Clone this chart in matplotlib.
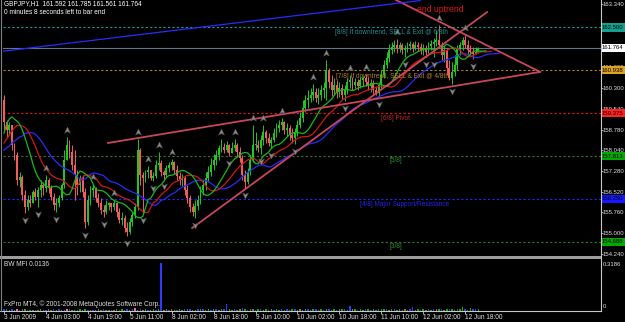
import numpy as np
import matplotlib.pyplot as plt
import matplotlib.transforms as mtrans
from matplotlib import font_manager as fm
from matplotlib.path import Path
from matplotlib.patches import Rectangle
from matplotlib.lines import Line2D

W, H = 625, 322

# ---------------- data ----------------
first_open = 159.86
closes = [159.05, 158.76, 158.95, 158.22, 157.85, 156.94, 157.05, 156.39, 155.96, 156.21,
          156.10, 156.50, 156.32, 156.58, 156.76, 156.65, 156.94, 156.65, 156.32, 156.03,
          156.10, 156.28, 156.76, 157.67, 158.22, 157.96, 157.49, 157.12, 156.76, 157.01,
          156.50, 155.41, 156.21, 156.58, 156.65, 156.28, 156.10, 155.85, 155.77, 156.03,
          156.10, 155.96, 156.10, 155.77, 155.48, 155.56, 155.19, 155.05, 155.41, 155.67,
          155.96, 158.03, 157.12, 157.01, 157.23, 157.31, 157.01, 157.09, 157.49, 157.56,
          157.23, 157.12, 157.38, 157.49, 157.60, 157.31, 157.09, 156.94, 157.01, 156.58,
          156.28, 155.96, 155.77, 155.99, 156.21, 156.58, 156.76, 157.01, 157.23, 157.49,
          157.67, 157.85, 158.11, 158.14, 158.03, 158.22, 157.92, 158.11, 158.22, 157.96,
          157.74, 157.12, 156.87, 157.23, 157.67, 158.22, 158.22, 158.11, 158.40, 158.69,
          158.47, 158.29, 158.40, 158.65, 158.84, 158.95, 159.05, 158.76, 158.84, 158.58,
          158.47, 158.69, 158.95, 159.20, 159.56, 159.86, 159.93, 160.04, 160.15, 159.93,
          160.04, 160.22, 160.29, 160.95, 160.51, 160.22, 160.40, 160.15, 160.29, 160.04,
          160.22, 160.51, 160.58, 160.40, 160.51, 160.37, 160.58, 160.66, 160.51, 160.37,
          160.48, 160.22, 160.11, 160.40, 160.77, 161.13, 161.39, 161.68, 161.79, 161.86,
          161.75, 161.86, 161.68, 161.68, 161.82, 161.90, 161.75, 161.86, 161.79, 161.68,
          161.75, 161.61, 161.82, 161.90, 161.97, 162.04, 161.86, 161.50, 161.68, 161.02,
          160.66, 160.88, 161.13, 161.75, 161.86, 162.04, 161.86, 161.68, 161.61, 161.53,
          161.592, 161.764]
highs = [160.04, 159.13, 159.05, 158.95, 158.29, 157.96, 157.23, 157.12, 156.58, 156.39,
         156.39, 156.58, 156.65, 156.69, 156.94, 156.87, 157.12, 157.01, 156.76, 156.47,
         156.28, 156.39, 156.83, 158.03, 158.51, 158.40, 158.22, 158.03, 157.31, 157.12,
         157.12, 156.65, 156.39, 156.72, 156.79, 156.69, 156.47, 156.28, 156.03, 156.21,
         156.14, 156.10, 156.21, 156.14, 155.92, 155.77, 155.67, 155.41, 155.56, 155.77,
         156.10, 158.43, 158.11, 157.23, 157.31, 157.45, 157.31, 157.23, 157.67, 157.96,
         157.67, 157.31, 157.49, 157.60, 157.71, 157.63, 157.49, 157.23, 157.16, 157.09,
         156.76, 156.39, 156.10, 156.21, 156.39, 156.72, 156.94, 157.23, 157.45, 157.74,
         157.89, 158.03, 158.22, 158.43, 158.29, 158.36, 158.25, 158.33, 158.43, 158.29,
         158.14, 157.85, 157.31, 157.38, 157.85, 158.95, 158.69, 158.40, 158.58, 158.95,
         158.76, 158.65, 158.51, 158.84, 159.02, 159.13, 159.20, 159.09, 159.02, 158.95,
         158.84, 158.84, 159.13, 159.42, 159.86, 160.04, 160.22, 160.29, 160.44, 160.29,
         160.29, 160.40, 160.51, 161.31, 161.02, 160.77, 160.66, 160.58, 160.51, 160.44,
         160.40, 160.66, 160.77, 160.69, 160.66, 160.62, 160.69, 160.73, 160.80, 160.69,
         160.62, 160.58, 160.37, 160.51, 160.95, 161.31, 161.61, 161.90, 161.97, 162.04,
         162.08, 161.97, 161.93, 161.86, 161.97, 162.01, 161.97, 162.01, 161.97, 161.93,
         161.90, 161.86, 161.97, 162.04, 162.12, 162.41, 162.59, 161.97, 161.86, 161.75,
         161.31, 161.24, 161.50, 161.86, 161.97, 162.15, 162.22, 162.04, 161.86, 161.79,
         161.79, 161.785]
lows = [158.76, 158.51, 158.58, 158.03, 157.67, 156.76, 156.69, 156.21, 155.74, 155.85,
        155.96, 156.14, 156.21, 155.96, 156.32, 156.39, 156.50, 156.47, 156.21, 155.85,
        155.77, 155.96, 156.21, 156.65, 157.67, 157.74, 157.31, 156.21, 156.39, 156.50,
        156.32, 155.19, 155.30, 156.03, 156.32, 156.14, 155.96, 155.70, 155.59, 155.70,
        155.85, 155.77, 155.85, 155.59, 155.37, 155.30, 155.05, 154.90, 154.97, 155.26,
        155.56, 155.85, 156.76, 155.74, 156.87, 157.01, 156.94, 156.90, 157.01, 157.31,
        157.09, 156.98, 157.05, 157.23, 157.31, 157.16, 156.94, 156.76, 156.72, 156.39,
        156.10, 155.77, 155.63, 155.56, 155.85, 156.07, 156.39, 156.58, 156.87, 157.09,
        157.31, 157.49, 157.67, 157.96, 157.92, 157.96, 157.82, 157.92, 158.00, 157.78,
        157.60, 156.94, 156.65, 156.79, 157.12, 157.60, 158.03, 157.96, 157.89, 158.22,
        158.29, 158.18, 158.11, 158.33, 158.51, 158.69, 158.76, 158.62, 158.54, 158.40,
        158.29, 158.25, 158.54, 158.84, 159.05, 159.42, 159.56, 159.78, 159.86, 159.78,
        159.71, 159.86, 159.93, 159.86, 160.29, 160.00, 160.04, 159.93, 159.97, 159.89,
        159.82, 160.07, 160.29, 160.22, 160.29, 160.22, 160.29, 160.37, 160.37, 160.22,
        160.15, 160.07, 160.04, 159.97, 160.29, 160.66, 161.02, 161.24, 161.53, 161.61,
        161.57, 161.61, 161.53, 161.42, 161.61, 161.68, 161.61, 161.68, 161.64, 161.53,
        161.50, 161.42, 161.57, 161.68, 161.42, 161.82, 161.75, 161.31, 161.24, 160.77,
        160.58, 160.44, 160.73, 160.95, 161.50, 161.68, 161.75, 161.50, 161.46, 161.35,
        161.53, 161.561]

up_fractals = [16, 24, 34, 42, 51, 55, 59, 64, 83, 88, 95, 99, 106, 118, 123, 132, 138, 150, 166, 176]
down_fractals = [8, 13, 20, 31, 38, 47, 53, 57, 61, 73, 86, 92, 98, 102, 111, 130, 143, 153, 161,
                 164, 171, 179]

# alligator lines at the left edge (before the first shifted value) and their start values
jaw_lead = [158.03, 158.11, 158.18, 158.29, 158.36, 158.43, 158.51, 158.54]
teeth_lead = [158.29, 158.43, 158.58, 158.73, 158.84]
lips_lead = [158.65, 158.98, 159.16]
jaw_seed, teeth_seed, lips_seed = 158.58, 158.87, 159.20

# Murrey math levels
murrey_levels = [162.500, 160.938, 159.375, 157.813, 156.250, 154.688]

# price scale labels that are not hidden under the level boxes
price_ticks = [163.340, 161.060, 160.300, 159.540, 158.780,
               158.040, 157.280, 156.520, 155.760, 155.000, 154.240]
date_bars = [0, 16, 32, 48, 64, 80, 96, 112, 128, 144, 160, 176]
date_labels = ['3 Jun 2009', '4 Jun 03:00', '4 Jun 19:00', '5 Jun 11:00', '8 Jun 02:00',
               '8 Jun 18:00', '9 Jun 10:00', '10 Jun 02:00', '10 Jun 18:00',
               '11 Jun 10:00', '12 Jun 02:00', '12 Jun 18:00']

# hand drawn trend lines: (bar, price) end points
trend_red = [([39.7, 204.6], [158.29, 160.88]),
             ([71.8, 184.4], [155.19, 163.06]),
             ([149.6, 204.6], [163.50, 160.88])]
trend_blue = ([-1.5, 158.8], [161.62, 163.48])

mfi = [0.014, 0.010, 0.006, 0.012, 0.008, 0.015, 0.009, 0.011, 0.014, 0.007,
       0.006, 0.009, 0.005, 0.008, 0.010, 0.007, 0.009, 0.012, 0.008, 0.010,
       0.008, 0.012, 0.007, 0.009, 0.015, 0.010, 0.008, 0.006, 0.009, 0.011,
       0.007, 0.013, 0.008, 0.006, 0.009, 0.007, 0.010, 0.008, 0.011, 0.006,
       0.007, 0.009, 0.008, 0.012, 0.006, 0.010, 0.009, 0.014, 0.008, 0.011,
       0.020, 0.007, 0.010, 0.008, 0.012, 0.009, 0.006, 0.010, 0.008, 0.012,
       0.3186, 0.009, 0.012, 0.008, 0.010, 0.007, 0.009, 0.014, 0.008, 0.011,
       0.010, 0.013, 0.009, 0.007, 0.011, 0.016, 0.012, 0.009, 0.010, 0.008,
       0.010, 0.012, 0.009, 0.014, 0.011, 0.045, 0.010, 0.008, 0.012, 0.009,
       0.014, 0.018, 0.011, 0.009, 0.013, 0.010, 0.008, 0.012, 0.010, 0.009,
       0.011, 0.008, 0.010, 0.009, 0.012, 0.007, 0.010, 0.008, 0.011, 0.009,
       0.013, 0.010, 0.008, 0.012, 0.009, 0.011, 0.014, 0.008, 0.010, 0.012,
       0.009, 0.011, 0.008, 0.015, 0.010, 0.009, 0.012, 0.008, 0.011, 0.010,
       0.013, 0.009, 0.035, 0.012, 0.010, 0.008, 0.011, 0.009, 0.012, 0.010,
       0.008, 0.010, 0.009, 0.012, 0.014, 0.011, 0.013, 0.009, 0.010, 0.012,
       0.008, 0.011, 0.009, 0.010, 0.007, 0.012, 0.028, 0.009, 0.010, 0.008,
       0.011, 0.009, 0.010, 0.008, 0.012, 0.010, 0.015, 0.011, 0.009, 0.013,
       0.010, 0.012, 0.009, 0.011, 0.010, 0.025, 0.012, 0.009, 0.020, 0.010,
       0.012, 0.0136]
mfi_colors = ("bgrbgpbgrbgrbgrgbrgb" "gbrgpbgrbgrgbrbgrgbr" "gbrgbgrbgbpgbrgbrgbg"
              "brgbrgbgrbgbgrbgbrgb" "gbrgbbgrbgrbgbgrbgbr" "gbrbgrbgbrgbgrbgbrgb"
              "rgbgbrgbrgbgbrgbgrbg" "brgbggbrgbrgbrgbbrgb" "grbgbrgbrgbgrbggbrgb" "bg")

# ---------------- fonts ----------------
names = {f.name for f in fm.fontManager.ttflist}
if 'Liberation Sans Narrow' in names:
    FONT, K = 'Liberation Sans Narrow', 1.0
else:
    FONT, K = 'Liberation Sans', 0.84
plt.rcParams['font.family'] = [FONT, 'DejaVu Sans']
FS = 5.6 * K
FSR = 5.2 * K   # right hand scale


def fx(x):
    return x / W


def fy(y):
    return 1 - y / H


fig = plt.figure(figsize=(W / 100, H / 100), dpi=100, facecolor='black')
ax = fig.add_axes([fx(3), fy(256), fx(598), 256 / H])
axm = fig.add_axes([fx(3), fy(311), fx(598), 52 / H])
for a in (ax, axm):
    a.set_facecolor('black')
    for s in a.spines.values():
        s.set_visible(False)
    a.set_xlim(-0.38, 227.86)
ax.set_ylim(154.171, 163.50)

n = len(closes)
idx = np.arange(n)
c = np.array(closes)
o = np.r_[first_open, c[:-1]]
h = np.maximum(np.array(highs), np.maximum(o, c))
l = np.minimum(np.array(lows), np.minimum(o, c))

# murrey lines + current price line
murrey_cols = ['#1c9c9c', '#b5812c', '#e01818', '#2f7a2f', '#2424ff', '#2f7a2f']
for lvl, col in zip(murrey_levels, murrey_cols):
    ax.axhline(lvl, color=col, lw=0.8, ls=(0, (2, 2)), zorder=1)
ax.axhline(c[-1], color='#5d7888', lw=0.8, zorder=1)

# candles
bull = c >= o
cols = np.where(bull, '#1ec81e', '#f25c5c')
ax.vlines(idx, l, h, colors=cols, lw=0.7, zorder=2)
ax.bar(idx, np.maximum(np.abs(c - o), 0.025), bottom=np.minimum(o, c), width=0.72,
       color=cols, lw=0, zorder=2)

# alligator (smoothed median price, shifted forward)
med = (h + l) / 2


def smma(vals, period, seed):
    out, prev = [], seed
    for v in vals:
        prev = (prev * (period - 1) + v) / period
        out.append(prev)
    return np.array(out)


for lead, seed, period, shift, col in [(jaw_lead, jaw_seed, 13, 8, '#2a2aff'),
                                       (teeth_lead, teeth_seed, 8, 5, '#d01818'),
                                       (lips_lead, lips_seed, 5, 3, '#18b818')]:
    xs = np.r_[np.arange(shift), idx + shift]
    ys = np.r_[lead, smma(med, period, seed)]
    ax.plot(xs, ys, color=col, lw=0.9, zorder=3)

# trend lines
for xs, ys in trend_red:
    ax.plot(xs, ys, color='#c8485a', lw=1.3, zorder=4)
ax.plot(trend_blue[0], trend_blue[1], color='#2a2aff', lw=0.9, zorder=4)

# fractals
up_path = Path([(0, 1), (0.85, -0.75), (0, -0.3), (-0.85, -0.75), (0, 1)],
               [Path.MOVETO, Path.LINETO, Path.LINETO, Path.LINETO, Path.CLOSEPOLY])
dn_path = Path(up_path.vertices * [1, -1], up_path.codes)
ax.scatter(up_fractals, h[up_fractals] + 0.25, marker=up_path, s=24, c='#8e8e8e',
           edgecolors='#505050', linewidths=0.4, zorder=5)
ax.scatter(down_fractals, l[down_fractals] - 0.25, marker=dn_path, s=24, c='#8e8e8e',
           edgecolors='#505050', linewidths=0.4, zorder=5)

# murrey texts
murrey_text = [('[8/8] If downtrend, SELL & Exit @ 6/8th', '#1f8f8f', 335, 33),
               ('[7/8] If downtrend, SELL & Exit @ 4/8th', '#b5812c', 336, 76),
               ('[6/8] Pivot', '#c02424', 381, 119),
               ('[5/8]', '#2f8f2f', 390, 161),
               ('[4/8] Major Support/Resistance', '#2424e8', 360, 204),
               ('[3/8]', '#2f8f2f', 390, 247)]
for txt, col, x, y in murrey_text:
    fig.text(fx(x), fy(y), txt, color=col, fontsize=FS, va='center', ha='left')
fig.text(fx(417), fy(10), 'end uptrend', color='#e01a1a', fontsize=7.4 * K, va='center')

# price axis
ax.yaxis.tick_right()
ax.set_yticks(price_ticks, [f'{p:.3f}' for p in price_ticks])
ax.tick_params(axis='y', color='#c8c8c8', labelcolor='#e0e0e0', labelsize=FSR,
               length=1.2, width=0.6, pad=0.2)
ax.tick_params(axis='x', bottom=False, labelbottom=False)

bt = mtrans.blended_transform_factory(fig.transFigure, ax.transData)
boxes = [(murrey_levels[0], '#14a08e'), (c[-1], '#ffffff'), (murrey_levels[1], '#dca222'),
         (murrey_levels[2], '#ff2222'), (murrey_levels[3], '#00a800'),
         (murrey_levels[4], '#1616ff'), (murrey_levels[5], '#00a800')]
for lvl, fc in boxes:
    ax.add_patch(Rectangle((fx(601), lvl - 0.15), fx(24), 0.30, transform=bt, fc=fc,
                           ec='none', clip_on=False, zorder=10))
    ax.text(fx(602), lvl, f'{lvl:.3f}', transform=bt, color='black', fontsize=FSR,
            va='center', ha='left', clip_on=False, zorder=11)

# MFI panel
palette = {'g': '#00b400', 'b': '#2a3cff', 'r': '#9a6a3a', 'p': '#ff5fa8'}
axm.bar(idx, mfi, width=0.55, color=[palette[ch] for ch in mfi_colors], lw=0)
axm.set_ylim(0, 0.345)
axm.set_yticks([])
axm.set_xticks(date_bars, date_labels)
axm.tick_params(axis='x', color='#c8c8c8', labelcolor='#e0e0e0', labelsize=FS,
                length=2, width=0.6, pad=0.5)
for t in axm.get_xticklabels():
    t.set_ha('left')

fig.text(fx(603), fy(264), f'{max(mfi):.4f}', color='#e0e0e0', fontsize=FSR, va='center')
fig.text(fx(603), fy(306), '0', color='#e0e0e0', fontsize=FSR, va='center')
fig.text(fx(4), fy(265), f'BW MFI {mfi[-1]:.4f}', color='#e0e0e0', fontsize=FS, va='center')
fig.text(fx(4), fy(304), 'FxPro MT4, \u00a9 2001-2008 MetaQuotes Software Corp.',
         color='#e0e0e0', fontsize=FS, va='center')

# header
fig.text(fx(4), fy(4), f'GBPJPY,H1  {o[-1]:.3f} {h[-1]:.3f} {l[-1]:.3f} {c[-1]:.3f}',
         color='white', fontsize=FS, va='center')
fig.text(fx(4), fy(13), '0 minutes 8 seconds left to bar end', color='white',
         fontsize=FS, va='center')

# frame lines and panel separator
fig.add_artist(Rectangle((0, fy(259)), fx(601), 3 / H, transform=fig.transFigure,
                         fc='#9c9c9c', ec='none'))
for xs, ys, col in [([601, 601], [0, 311], '#c8c8c8'), ([0, 601], [311, 311], '#c8c8c8'),
                    ([1.5, 1.5], [0, 311], '#808080')]:
    fig.add_artist(Line2D([fx(v) for v in xs], [fy(v) for v in ys], color=col, lw=0.8))

fig.savefig('out.png', dpi=100, facecolor='black')
